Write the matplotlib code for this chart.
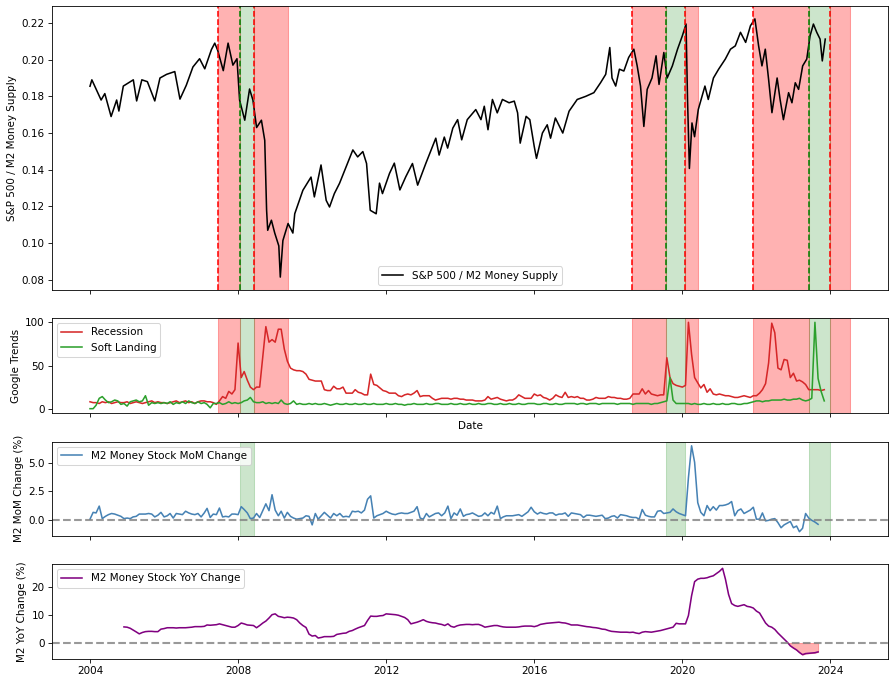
import numpy as np
import pandas as pd
import matplotlib
matplotlib.use("Agg")
import matplotlib.pyplot as plt

# S&P 500 / M2 ratio (decimal year, value)
sp_t = [2004.00, 2004.05, 2004.30, 2004.40, 2004.57, 2004.72, 2004.78, 2004.90,
        2005.17, 2005.26, 2005.40, 2005.55, 2005.75, 2005.89, 2006.07, 2006.29,
        2006.43, 2006.60, 2006.78, 2006.96, 2007.10, 2007.28, 2007.37, 2007.45,
        2007.60, 2007.73, 2007.86, 2007.97, 2008.04, 2008.18, 2008.31, 2008.40,
        2008.50, 2008.63, 2008.72, 2008.77, 2008.80, 2008.90, 2008.99, 2009.10,
        2009.14, 2009.21, 2009.35, 2009.48, 2009.53, 2009.66, 2009.75, 2009.97,
        2010.06, 2010.24, 2010.38, 2010.47, 2010.60, 2010.74, 2010.92, 2011.10,
        2011.23, 2011.37, 2011.47, 2011.57, 2011.73, 2011.82, 2011.90, 2012.09,
        2012.22, 2012.37, 2012.53, 2012.71, 2012.85, 2013.07, 2013.34, 2013.43,
        2013.57, 2013.66, 2013.80, 2013.93, 2014.04, 2014.19, 2014.42, 2014.56,
        2014.65, 2014.75, 2014.87, 2015.00, 2015.14, 2015.32, 2015.46, 2015.55,
        2015.62, 2015.78, 2015.88, 2016.00, 2016.06, 2016.22, 2016.35, 2016.44,
        2016.57, 2016.77, 2016.94, 2017.16, 2017.39, 2017.61, 2017.79, 2017.93,
        2018.04, 2018.10, 2018.20, 2018.30, 2018.42, 2018.55, 2018.69, 2018.78,
        2018.87, 2018.96, 2019.05, 2019.18, 2019.29, 2019.37, 2019.50, 2019.59,
        2019.73, 2019.87, 2020.00, 2020.10, 2020.14, 2020.19, 2020.26, 2020.33,
        2020.43, 2020.61, 2020.70, 2020.84, 2020.98, 2021.16, 2021.30, 2021.43,
        2021.57, 2021.71, 2021.84, 2021.96, 2022.06, 2022.15, 2022.24, 2022.33,
        2022.42, 2022.56, 2022.64, 2022.73, 2022.87, 2022.96, 2023.05, 2023.14,
        2023.25, 2023.36, 2023.45, 2023.54, 2023.63, 2023.72, 2023.78, 2023.86]
sp_ratio = [0.1855, 0.189, 0.178, 0.1815, 0.169, 0.178, 0.172, 0.1856,
            0.189, 0.1775, 0.189, 0.188, 0.1775, 0.190, 0.192, 0.1935,
            0.1785, 0.186, 0.196, 0.2005, 0.195, 0.2055, 0.209, 0.205,
            0.194, 0.209, 0.197, 0.2005, 0.178, 0.167, 0.184, 0.178,
            0.163, 0.167, 0.156, 0.118, 0.107, 0.1125, 0.1055, 0.0985,
            0.0815, 0.1014, 0.1107, 0.1055, 0.116, 0.1235, 0.1288, 0.136,
            0.1252, 0.1426, 0.1233, 0.1197, 0.127, 0.1326, 0.1417, 0.1508,
            0.147, 0.1499, 0.1434, 0.1179, 0.116, 0.1327, 0.127, 0.138,
            0.1436, 0.129, 0.1362, 0.1434, 0.1316, 0.1434, 0.1572, 0.148,
            0.1578, 0.1518, 0.1627, 0.1673, 0.1563, 0.1673, 0.1728, 0.1673,
            0.1746, 0.1618, 0.1783, 0.171, 0.1783, 0.1765, 0.1774, 0.171,
            0.1545, 0.1691, 0.1673, 0.1526, 0.1462, 0.160, 0.1645, 0.1572,
            0.1682, 0.160, 0.1719, 0.1783, 0.180, 0.182, 0.1874, 0.192,
            0.2066, 0.19, 0.1856, 0.1948, 0.1938, 0.2012, 0.2057, 0.1966,
            0.1856, 0.1636, 0.1838, 0.19, 0.2021, 0.1865, 0.2039, 0.19,
            0.1966, 0.2057, 0.213, 0.2194, 0.1783, 0.1407, 0.1655, 0.158,
            0.1728, 0.1856, 0.1783, 0.19, 0.1948, 0.2003, 0.2057, 0.2075,
            0.2149, 0.2094, 0.2185, 0.2222, 0.2075, 0.1966, 0.2057, 0.1892,
            0.1711, 0.19, 0.1783, 0.1673, 0.182, 0.1765, 0.1874, 0.1838,
            0.1966, 0.2003, 0.213, 0.2194, 0.2149, 0.2112, 0.1993, 0.2112]

# Google Trends, monthly from Jan 2004
recession = [8, 7, 7, 6, 8, 7, 8, 6, 7, 8, 7, 7,
             8, 6, 7, 8, 7, 6, 7, 8, 9, 7, 8, 7,
             7, 6, 7, 8, 9, 7, 8, 9, 7, 8, 6, 8,
             9, 9, 8, 8, 7, 5, 9, 14, 12, 20, 17, 22,
             76, 36, 43, 33, 25, 22, 25, 25, 61, 95, 77, 80,
             77, 92, 92, 69, 55, 47, 45, 44, 44, 43, 40, 34,
             33, 32, 32, 32, 22, 21, 21, 26, 23, 23, 25, 18,
             18, 18, 22, 19, 18, 16, 16, 40, 28, 27, 24, 21,
             20, 18, 18, 18, 15, 14, 16, 17, 16, 18, 21, 14,
             15, 15, 15, 12, 10, 11, 12, 12, 12, 11, 12, 12,
             11, 11, 10, 10, 10, 9, 9, 9, 10, 14, 11, 12,
             13, 11, 10, 9, 10, 10, 12, 16, 14, 12, 12, 12,
             17, 15, 16, 13, 12, 10, 12, 16, 14, 13, 19, 13,
             14, 13, 14, 12, 12, 10, 10, 11, 13, 12, 12, 12,
             14, 13, 13, 12, 12, 11, 11, 12, 17, 17, 17, 23,
             17, 21, 17, 16, 15, 16, 16, 59, 36, 29, 27, 26,
             25, 27, 100, 63, 36, 30, 24, 28, 19, 23, 17, 16,
             17, 16, 15, 15, 14, 13, 13, 14, 15, 14, 13, 15,
             15, 18, 22, 29, 53, 99, 88, 47, 45, 57, 56, 36,
             41, 32, 33, 31, 28, 22, 22, 22, 22, 21, 22]
soft_landing = [0, 0, 4, 12, 14, 10, 7, 8, 10, 9, 5, 6,
                3, 8, 9, 10, 8, 9, 15, 4, 7, 6, 7, 6,
                7, 6, 8, 5, 7, 6, 8, 6, 9, 7, 6, 8,
                6, 7, 5, 1, 6, 6, 7, 5, 6, 8, 6, 7,
                6, 7, 9, 10, 13, 8, 7, 7, 8, 6, 7, 6,
                7, 6, 10, 6, 5, 6, 9, 5, 6, 5, 5, 6,
                5, 6, 5, 5, 6, 5, 4, 5, 6, 5, 5, 6,
                5, 5, 6, 5, 5, 6, 5, 5, 6, 5, 5, 5,
                6, 5, 5, 6, 5, 5, 4, 5, 5, 6, 5, 5,
                5, 6, 5, 5, 6, 6, 5, 5, 5, 6, 5, 5,
                6, 5, 5, 6, 5, 5, 6, 5, 5, 6, 6, 5,
                5, 6, 5, 5, 6, 5, 5, 6, 5, 5, 6, 6,
                6, 5, 5, 6, 6, 5, 5, 6, 5, 5, 6, 6,
                6, 6, 5, 6, 6, 5, 6, 6, 6, 5, 6, 6,
                6, 6, 6, 5, 6, 6, 6, 6, 5, 6, 6, 6,
                6, 6, 5, 6, 6, 7, 8, 9, 36, 10, 6, 6,
                6, 6, 6, 5, 6, 5, 5, 6, 5, 5, 6, 5,
                5, 6, 5, 5, 6, 6, 5, 5, 6, 6, 7, 8,
                9, 9, 8, 9, 9, 10, 10, 10, 10, 11, 10, 10,
                11, 11, 12, 10, 9, 10, 12, 100, 35, 20, 9]

# M2 month-over-month change (%), monthly from Jan 2004
m2_mom = [0.05, 0.65, 0.6, 1.2, 0.1, 0.3, 0.45, 0.55, 0.5, 0.4, 0.3, 0.1,
          0.15, 0.1, 0.25, 0.3, 0.5, 0.5, 0.5, 0.55, 0.5, 0.25, 0.4, 0.65,
          0.25, 0.35, 0.55, 0.15, 0.55, 0.5, 0.45, 0.75, 0.6, 0.5, 0.45, 0.55,
          0.25, 0.6, 1.0, 0.2, 0.5, 0.45, 1.03, 0.25, 0.3, 0.25, 0.5, 0.5,
          0.45, 1.15, 0.9, 0.6, 0.1, 0.15, 0.55, 0.2, 0.8, 1.4, 0.8, 2.2,
          0.85, 0.35, 0.75, 0.15, 0.65, 0.3, 0.15, 0.05, 0.1, 0.15, 0.35, 0.3,
          -0.45, 0.55, 0.05, 0.35, 0.65, 0.4, 0.15, 0.55, 0.35, 0.55, 0.25, 0.3,
          0.25, 0.75, 0.7, 0.75, 0.6, 0.85, 1.8, 2.1, 0.15, 0.35, 0.45, 0.55,
          0.75, 0.6, 0.5, 0.45, 0.55, 0.6, 0.55, 0.55, 0.65, 0.75, 1.15, 0.15,
          0.05, 0.55, 0.25, 0.4, 0.55, 0.6, 0.35, 0.6, 1.2, 0.1, 0.6, 0.4,
          0.95, 0.3, 0.45, 0.5, 0.6, 0.45, 0.3, 0.35, 0.6, 0.35, 0.65, 0.5,
          1.2, 0.1, 0.25, 0.35, 0.35, 0.35, 0.4, 0.45, 0.3, 0.5, 0.7, 1.1,
          0.7, 0.5, 0.65, 0.55, 0.5, 0.6, 0.6, 0.4, 0.5, 0.5, 0.6, 0.3,
          0.6, 0.55, 0.5, 0.45, 0.2, 0.4, 0.4, 0.35, 0.3, 0.35, 0.4, 0.1,
          0.15, 0.3, 0.35, 0.15, 0.45, 0.4, 0.35, 0.25, 0.2, 0.2, 0.05, 0.9,
          0.4, 0.3, 0.25, 0.25, 0.75, 0.8, 0.55, 0.6, 0.65, 0.95, 0.7, 0.55,
          0.45, 0.35, 3.7, 6.5, 5.05, 1.5, 0.65, 0.35, 1.25, 0.8, 1.15, 0.85,
          1.25, 1.25, 1.3, 1.4, 1.6, 0.35, 0.8, 0.95, 0.55, 0.7, 0.85, 1.1,
          0.05, 0.05, 0.6, -0.1, -0.05, 0.05, 0.1, -0.25, -0.7, -0.45, -0.3, -0.15,
          -0.7, -0.55, -1.05, -0.75, 0.55, 0.15, -0.05, -0.2, -0.4]

# M2 year-over-year change (%), monthly from Dec 2004
m2_yoy = [5.8,
          5.7, 5.3, 4.7, 4.0, 3.3, 3.8, 4.1, 4.2, 4.2, 4.1, 4.1, 5.0,
          5.2, 5.5, 5.5, 5.5, 5.4, 5.5, 5.5, 5.5, 5.6, 5.7, 5.9, 5.9,
          5.9, 6.0, 6.5, 6.4, 6.5, 6.6, 6.9, 6.6, 6.3, 6.0, 5.7, 5.7,
          6.3, 7.2, 6.9, 6.5, 6.4, 6.3, 5.5, 6.3, 7.2, 7.9, 9.0, 10.2,
          10.5, 9.6, 9.4, 9.1, 9.3, 9.2, 9.0, 8.4, 7.2, 6.3, 5.6, 3.2,
          2.5, 2.7, 1.8, 2.0, 2.3, 2.3, 2.3, 2.4, 3.1, 3.3, 3.5, 3.6,
          4.2, 4.5, 5.0, 5.5, 5.9, 6.3, 8.1, 9.7, 9.6, 9.6, 9.8, 9.9,
          10.5, 10.4, 10.3, 10.2, 10.0, 9.6, 9.2, 8.4, 6.9, 7.2, 7.5, 7.9,
          8.4, 7.8, 7.5, 7.3, 7.2, 6.9, 6.7, 6.3, 6.9, 6.0, 5.7, 6.2,
          6.5, 6.6, 6.7, 6.7, 6.6, 6.7, 6.7, 6.3, 5.7, 5.9, 6.1, 6.3,
          6.3, 6.0, 5.8, 5.7, 5.7, 5.7, 5.7, 5.8, 6.0, 6.1, 6.1, 6.1,
          5.9, 6.2, 6.7, 6.9, 7.1, 7.2, 7.3, 7.4, 7.5, 7.3, 7.2, 6.9,
          6.5, 6.5, 6.5, 6.3, 6.1, 5.9, 5.8, 5.6, 5.5, 5.3, 5.0, 4.9,
          4.5, 4.2, 4.1, 4.0, 3.9, 3.9, 3.9, 3.8, 3.9, 3.6, 3.4, 3.9,
          4.1, 4.0, 3.9, 4.1, 4.3, 4.5, 4.8, 5.1, 5.4, 5.7, 7.1, 6.9,
          6.9, 6.9, 9.9, 17.0, 22.1, 23.0, 23.3, 23.3, 23.5, 23.9, 24.2, 25.0,
          25.8, 26.9, 23.0, 17.5, 14.2, 13.5, 13.2, 13.5, 13.8, 13.2, 13.0, 12.6,
          11.5, 10.8, 9.1, 7.2, 6.1, 5.7, 4.9, 3.6, 2.5, 1.4, 0.3, -1.0,
          -1.8, -2.5, -3.4, -4.2, -3.8, -3.7, -3.6, -3.5, -3.2]

# shaded periods (red parts sit either side of the green parts) and markers
red_spans = [("2007-06-15", "2008-01-19"), ("2008-06-05", "2009-05-08"),
             ("2018-08-25", "2019-07-27"), ("2020-02-01", "2020-06-05"),
             ("2021-12-01", "2023-05-30"), ("2024-01-01", "2024-07-12")]
green_spans = [("2008-01-19", "2008-06-05"), ("2019-07-27", "2020-02-01"), ("2023-05-30", "2024-01-01")]
red_lines = ["2007-06-15", "2008-06-05", "2018-08-25", "2020-02-01", "2021-12-01", "2024-01-01"]
green_lines = ["2008-01-19", "2019-07-27", "2023-05-30"]

sp_dates = pd.Timestamp("2004-01-01") + pd.to_timedelta((np.array(sp_t) - 2004) * 365.25, unit="D")
trend_dates = pd.date_range("2004-01-01", periods=len(recession), freq="MS")
mom_dates = pd.date_range("2004-01-01", periods=len(m2_mom), freq="MS")
yoy_dates = pd.date_range("2004-12-01", periods=len(m2_yoy), freq="MS")

W, H = 894, 683
fig = plt.figure(figsize=(W / 75, H / 75), dpi=75)


def box(top, bottom):
    return [52 / W, 1 - bottom / H, 836 / W, (bottom - top) / H]


ax1 = fig.add_axes(box(6, 290))
ax2 = fig.add_axes(box(318, 413), sharex=ax1)
ax3 = fig.add_axes(box(441.5, 536), sharex=ax1)
ax4 = fig.add_axes(box(564, 659), sharex=ax1)


def shade(ax, with_red=True):
    if with_red:
        for s, e in red_spans:
            ax.axvspan(pd.Timestamp(s), pd.Timestamp(e), color="red", alpha=0.3)
    for s, e in green_spans:
        ax.axvspan(pd.Timestamp(s), pd.Timestamp(e), color="green", alpha=0.2)


# Top: ratio with spans and marker lines
ax1.plot(sp_dates, sp_ratio, color="black", lw=1.5, label="S&P 500 / M2 Money Supply")
shade(ax1)
for d in red_lines:
    ax1.axvline(pd.Timestamp(d), color="red", linestyle="--", lw=1.5)
for d in green_lines:
    ax1.axvline(pd.Timestamp(d), color="green", linestyle="--", lw=1.5)
ax1.set_ylabel("S&P 500 / M2 Money Supply")
ax1.legend(loc="lower center")

# Google Trends
ax2.plot(trend_dates, recession, color="tab:red", label="Recession")
ax2.plot(trend_dates, soft_landing, color="tab:green", label="Soft Landing")
shade(ax2)
ax2.set_ylabel("Google Trends")
ax2.set_xlabel("Date")
ax2.legend(loc="upper left")

# M2 MoM
ax3.plot(mom_dates, m2_mom, color="steelblue", label="M2 Money Stock MoM Change")
ax3.axhline(0, color="gray", linestyle="--", lw=2, alpha=0.8)
shade(ax3, with_red=False)
ax3.set_ylabel("M2 MoM Change (%)")
ax3.legend(loc="upper left")

# M2 YoY
yoy = np.array(m2_yoy)
ax4.plot(yoy_dates, yoy, color="purple", label="M2 Money Stock YoY Change")
ax4.axhline(0, color="gray", linestyle="--", lw=2, alpha=0.8)
ax4.fill_between(yoy_dates, yoy, 0, where=yoy < 0, color="red", alpha=0.3, interpolate=True)
ax4.set_ylabel("M2 YoY Change (%)")
ax4.legend(loc="upper left")

for ax in (ax1, ax2, ax3):
    ax.tick_params(labelbottom=False)

fig.savefig("out.png", dpi=75)
